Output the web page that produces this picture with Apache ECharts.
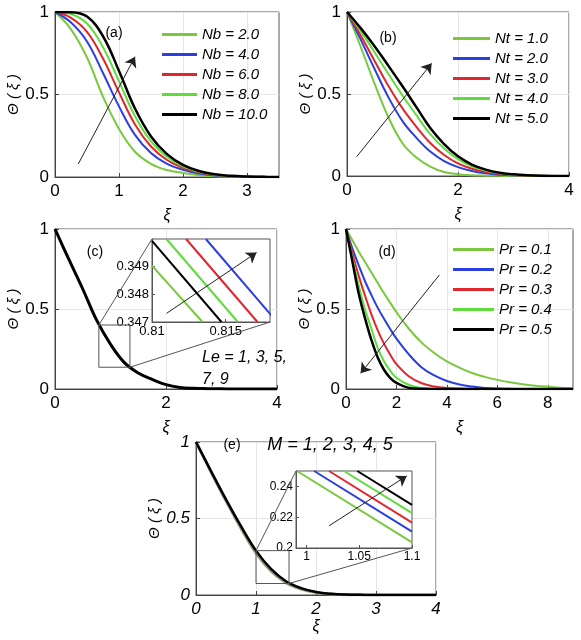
<!DOCTYPE html>
<html>
<head>
<meta charset="utf-8">
<script src="https://cdn.jsdelivr.net/npm/echarts@6/dist/echarts.min.js"></script>
<style>
  html, body { margin: 0; padding: 0; background: #fff; }
  #chart { width: 581px; height: 640px; }
</style>
</head>
<body>
<div id="chart"></div>
<script>
// ---- data ----
const xsA = [0, 0.25, 0.5, 0.75, 1, 1.25, 1.5, 1.75, 2, 2.25, 2.5, 2.75, 3, 3.25, 3.5];
const nbNames = ['Nb = 2.0', 'Nb = 4.0', 'Nb = 6.0', 'Nb = 8.0', 'Nb = 10.0'];
const nb2  = [1, 0.895, 0.724, 0.487, 0.291, 0.153, 0.080, 0.042, 0.024, 0.011, 0.005, 0.002, 0.001, 0, 0];
const nb4  = [1, 0.936, 0.821, 0.630, 0.428, 0.255, 0.145, 0.080, 0.044, 0.021, 0.009, 0.004, 0.002, 0, 0];
const nb6  = [1, 0.965, 0.880, 0.718, 0.513, 0.318, 0.185, 0.103, 0.056, 0.027, 0.012, 0.005, 0.002, 0.001, 0];
const nb8  = [1, 0.988, 0.930, 0.787, 0.580, 0.368, 0.216, 0.122, 0.065, 0.032, 0.014, 0.006, 0.003, 0.001, 0];
const nb10 = [1, 0.999, 0.972, 0.853, 0.643, 0.415, 0.246, 0.139, 0.074, 0.036, 0.016, 0.007, 0.003, 0.001, 0];

const xsB = [0, 0.25, 0.5, 0.75, 1, 1.25, 1.5, 1.75, 2, 2.25, 2.5, 2.75, 3, 3.25, 3.5, 3.75, 4];
const ntNames = ['Nt = 1.0', 'Nt = 2.0', 'Nt = 3.0', 'Nt = 4.0', 'Nt = 5.0'];
const nt1 = [1, 0.785, 0.560, 0.355, 0.200, 0.113, 0.057, 0.024, 0.011, 0.004, 0.002, 0.001, 0, 0, 0, 0, 0];
const nt2 = [1, 0.830, 0.650, 0.478, 0.335, 0.233, 0.149, 0.091, 0.054, 0.030, 0.016, 0.008, 0.004, 0.002, 0, 0, 0];
const nt3 = [1, 0.855, 0.700, 0.547, 0.412, 0.300, 0.201, 0.128, 0.077, 0.044, 0.025, 0.013, 0.006, 0.002, 0.001, 0, 0];
const nt4 = [1, 0.882, 0.753, 0.620, 0.491, 0.371, 0.255, 0.168, 0.103, 0.059, 0.033, 0.017, 0.008, 0.003, 0.001, 0, 0];
const nt5 = [1, 0.900, 0.790, 0.670, 0.547, 0.420, 0.293, 0.195, 0.120, 0.070, 0.039, 0.020, 0.010, 0.004, 0.001, 0, 0];

const xsC = [0, 0.25, 0.5, 0.75, 1, 1.25, 1.5, 1.75, 2, 2.25, 2.5, 2.75, 3, 3.25, 3.5, 3.75, 4];
const leMain = [1, 0.81, 0.625, 0.43, 0.28, 0.165, 0.10, 0.06, 0.027, 0.010, 0.004, 0.002, 0.001, 0, 0, 0, 0];
// zoomed inset (c): straight segments, start and end point of each curve
const leInsetStart = [[0.81, 0.34904], [0.81, 0.34993], [0.81098, 0.35], [0.81231, 0.35], [0.81365, 0.35]];
const leInsetEnd   = [[0.81342, 0.347], [0.81471, 0.347], [0.81582, 0.347], [0.81715, 0.347], [0.8182, 0.34717]];
const leZoomBox = [[0.79, 0.40], [1.35, 0.136]];

const xsD = [0, 0.25, 0.5, 0.75, 1, 1.25, 1.5, 1.75, 2, 2.5, 3, 3.5, 4, 4.5, 5, 5.5, 6, 6.5, 7, 7.5, 8, 8.5, 9];
const prNames = ['Pr = 0.1', 'Pr = 0.2', 'Pr = 0.3', 'Pr = 0.4', 'Pr = 0.5'];
const pr1 = [1, 0.93, 0.86, 0.795, 0.73, 0.665, 0.60, 0.54, 0.48, 0.375, 0.29, 0.225, 0.172, 0.133, 0.10, 0.076, 0.057, 0.042, 0.03, 0.021, 0.014, 0.008, 0.005];
const pr2 = [1, 0.88, 0.775, 0.675, 0.59, 0.51, 0.44, 0.375, 0.315, 0.215, 0.135, 0.085, 0.05, 0.028, 0.015, 0.007, 0.003, 0.001, 0, 0, 0, 0, 0];
const pr3 = [1, 0.85, 0.71, 0.585, 0.47, 0.37, 0.285, 0.215, 0.155, 0.078, 0.036, 0.016, 0.007, 0.003, 0.001, 0, 0, 0, 0, 0, 0, 0, 0];
const pr4 = [1, 0.82, 0.65, 0.50, 0.38, 0.26, 0.175, 0.115, 0.07, 0.025, 0.006, 0.001, 0, 0, 0, 0, 0, 0, 0, 0, 0, 0, 0];
const pr5 = [1, 0.80, 0.60, 0.445, 0.31, 0.2, 0.122, 0.07, 0.038, 0.007, 0.001, 0, 0, 0, 0, 0, 0, 0, 0, 0, 0, 0, 0];

const xsE = [0, 0.25, 0.5, 0.75, 1, 1.25, 1.5, 1.75, 2, 2.25, 2.5, 2.75, 3, 3.25, 3.5, 3.75, 4];
const mLow  = [1, 0.805, 0.615, 0.437, 0.275, 0.157, 0.081, 0.039, 0.017, 0.007, 0.002, 0.001, 0, 0, 0, 0, 0];
const mHigh = [1, 0.81, 0.625, 0.45, 0.29, 0.17, 0.09, 0.045, 0.02, 0.008, 0.003, 0.001, 0, 0, 0, 0, 0];
const mInsetStart = [[0.991, 0.25], [1.0072, 0.25], [1.0213, 0.25], [1.0355, 0.25], [1.0481, 0.25]];
const mInsetEnd   = [[1.1, 0.2037], [1.1, 0.2106], [1.1, 0.2165], [1.1, 0.2226], [1.1, 0.228]];
const mZoomBox = [[1.0, 0.29], [1.55, 0.075]];

// arrows [from, to]
const arrowA = [[0.364, 0.079], [1.25, 0.729]];
const arrowB = [[0.175, 0.118], [1.526, 0.687]];
const arrowC = [[0.81098, 0.34731], [0.81709, 0.34951]];
const arrowD = [[3.70, 0.7125], [0.58, 0.098]];
const arrowE = [[1.0213, 0.2144], [1.095, 0.2468]];

// ---- styling ----
const G1 = '#79c83d', BL = '#2b3fe0', RD = '#e2262d', G2 = '#5fdc3c', BK = '#000000';
const fiveColors = [G1, BL, RD, G2, BK];
const FONT = 'Liberation Sans, Arial, sans-serif';

const chart = echarts.init(document.getElementById('chart'), null, {renderer: 'canvas'});

function pairs(xs, ys) { return xs.map((x, i) => [x, ys[i]]); }

function mainGrid(left, top, width, height) {
  return {left, top, width, height, show: true, borderColor: '#555', borderWidth: 1, containLabel: false};
}
function insetGrid(left, top, width, height) {
  return {left, top, width, height, show: true, borderColor: '#555', borderWidth: 1,
          backgroundColor: '#fff', z: 5};
}

const axisCommon = {
  type: 'value',
  axisLine: {show: true, lineStyle: {color: '#444', width: 1}},
  axisTick: {show: true, inside: true, length: 4, lineStyle: {color: '#444'}},
  splitLine: {show: true, lineStyle: {color: '#e6e6e6', width: 1}},
  axisLabel: {color: '#000', fontSize: 17, fontFamily: FONT, margin: 6},
  nameTextStyle: {color: '#000', fontSize: 16, fontFamily: FONT, fontStyle: 'italic'}
};

function xMain(gi, min, max, ticks, italic) {
  return Object.assign({}, axisCommon, {
    gridIndex: gi, min, max,
    axisLabel: Object.assign({}, axisCommon.axisLabel, {customValues: ticks, fontStyle: italic ? 'italic' : 'normal'}),
    axisTick: Object.assign({}, axisCommon.axisTick, {customValues: ticks}),
    name: 'ξ', nameLocation: 'middle', nameGap: italic ? 21 : 31
  });
}
function yMain(gi, italic) {
  return Object.assign({}, axisCommon, {
    gridIndex: gi, min: 0, max: 1, interval: 0.5,
    axisLabel: Object.assign({}, axisCommon.axisLabel, {fontStyle: italic ? 'italic' : 'normal'}),
    name: 'Θ ( ξ )', nameLocation: 'middle', nameRotate: 90, nameGap: 34,
    nameTextStyle: {color: '#000', fontSize: 15, fontFamily: FONT, fontStyle: 'italic'}
  });
}
function insetAxis(gi, min, max, ticks, fontSize, digits) {
  return {
    type: 'value', gridIndex: gi, min, max, z: 6,
    axisLine: {show: true, lineStyle: {color: '#555'}},
    axisTick: {show: true, inside: true, length: 3, customValues: ticks, lineStyle: {color: '#555'}},
    splitLine: {show: false},
    axisLabel: {customValues: ticks, color: '#000', fontSize, fontFamily: FONT, margin: 3,
                formatter: v => String(+v.toFixed(digits))}
  };
}

function curve(name, gi, xs, ys, color, width) {
  return {
    name, type: 'line', xAxisIndex: gi, yAxisIndex: gi, data: pairs(xs, ys),
    showSymbol: false, symbol: 'none', smooth: 0.4,
    lineStyle: {color, width: width || 2}, itemStyle: {color}, silent: true, z: 3
  };
}
function segment(name, gi, a, b, color) {
  return {
    name, type: 'line', xAxisIndex: gi, yAxisIndex: gi, data: [a, b], clip: true,
    showSymbol: false, symbol: 'none', lineStyle: {color, width: 2}, itemStyle: {color}, silent: true, z: 7
  };
}
function arrow(gi, pts, z) {
  return {
    type: 'lines', coordinateSystem: 'cartesian2d', xAxisIndex: gi, yAxisIndex: gi,
    symbol: ['none', 'arrow'], symbolSize: 10, silent: true, z: z || 8,
    lineStyle: {color: '#222', width: 1, opacity: 1},
    data: [{coords: pts}]
  };
}
function legendAt(names, left, top, itemWidth) {
  return {
    data: names, orient: 'vertical', left, top, itemWidth, itemHeight: 3, itemGap: 5,
    icon: 'rect', selectedMode: false, padding: 0,
    textStyle: {fontSize: 15, fontStyle: 'italic', fontFamily: FONT, color: '#000', lineHeight: 15}
  };
}

const series = [];
[nb2, nb4, nb6, nb8, nb10].forEach((ys, i) => series.push(curve(nbNames[i], 0, xsA, ys, fiveColors[i], i === 4 ? 2.5 : 2)));
[nt1, nt2, nt3, nt4, nt5].forEach((ys, i) => series.push(curve(ntNames[i], 1, xsB, ys, fiveColors[i], i === 4 ? 2.5 : 2)));
series.push(curve('Le', 2, xsC, leMain, BK, 3));
[pr1, pr2, pr3, pr4, pr5].forEach((ys, i) => series.push(curve(prNames[i], 3, xsD, ys, fiveColors[i], i === 4 ? 2.5 : 2)));
series.push(curve('M = 1', 4, xsE, mLow, '#8a9a7a', 3));
series.push(curve('M = 5', 4, xsE, mHigh, BK, 2.5));
const leColors = [G1, BK, G2, RD, BL];
leInsetStart.forEach((a, i) => series.push(segment('Le inset ' + i, 5, a, leInsetEnd[i], leColors[i])));
mInsetStart.forEach((a, i) => series.push(segment('M inset ' + i, 6, a, mInsetEnd[i], fiveColors[i])));
series.push(arrow(0, arrowA), arrow(1, arrowB), arrow(3, arrowD), arrow(5, arrowC, 9), arrow(6, arrowE, 9));

const option = {
  backgroundColor: '#fff',
  animation: false,
  grid: [
    mainGrid(55, 12, 224, 165),
    mainGrid(347, 12, 222, 164),
    mainGrid(55, 229, 222, 160),
    mainGrid(346, 229, 227, 160),
    mainGrid(196, 442, 240, 153),
    insetGrid(152, 239, 118, 83),
    insetGrid(296, 471, 116, 77)
  ],
  xAxis: [
    xMain(0, 0, 3.5, [0, 1, 2, 3]),
    xMain(1, 0, 4, [0, 2, 4]),
    xMain(2, 0, 4, [0, 2, 4]),
    xMain(3, 0, 9, [0, 2, 4, 6, 8]),
    xMain(4, 0, 4, [0, 1, 2, 3, 4], true),
    insetAxis(5, 0.81, 0.818, [0.81, 0.815], 13, 3),
    insetAxis(6, 0.99, 1.1, [1, 1.05, 1.1], 12, 2)
  ],
  yAxis: [
    yMain(0), yMain(1), yMain(2), yMain(3), yMain(4, true),
    insetAxis(5, 0.347, 0.35, [0.347, 0.348, 0.349], 13, 3),
    insetAxis(6, 0.2, 0.25, [0.2, 0.22, 0.24], 12, 2)
  ],
  legend: [
    legendAt(nbNames, 162, 27, 35),
    legendAt(ntNames, 453, 31, 37),
    legendAt(prNames, 453, 242, 41)
  ],
  series
};
chart.setOption(option);

// annotations: zoom boxes, connectors and panel texts, placed from data coords
const px = (gi, pt) => chart.convertToPixel({gridIndex: gi}, pt);
function boxAndLinks(mainGi, box, insetGi, insetTL, insetBR) {
  const a = px(mainGi, box[0]), b = px(mainGi, box[1]);
  const p = px(insetGi, insetTL), q = px(insetGi, insetBR);
  const ls = {stroke: '#555', lineWidth: 1, fill: null};
  return [
    {type: 'rect', shape: {x: a[0], y: a[1], width: b[0] - a[0], height: b[1] - a[1]}, style: ls, z: 20, silent: true},
    {type: 'line', shape: {x1: a[0], y1: a[1], x2: p[0], y2: p[1]}, style: ls, z: 20, silent: true},
    {type: 'line', shape: {x1: b[0], y1: b[1], x2: q[0], y2: q[1]}, style: ls, z: 20, silent: true}
  ];
}
function label(text, x, y, size, italic, align) {
  return {type: 'text', x, y, z: 30, silent: true,
          style: {text, fontSize: size, fontFamily: FONT, fontStyle: italic ? 'italic' : 'normal',
                  fill: '#000', align: align || 'center', verticalAlign: 'middle', lineHeight: size + 6}};
}
chart.setOption({
  graphic: [].concat(
    boxAndLinks(2, leZoomBox, 5, [0.81, 0.35], [0.818, 0.347]),
    boxAndLinks(4, mZoomBox, 6, [0.99, 0.25], [1.1, 0.2]),
    [
      label('(a)', 114, 33, 14),
      label('(b)', 388, 38, 14),
      label('(c)', 95, 252, 14),
      label('(d)', 387, 252, 14),
      label('(e)', 232, 445, 14),
      label('Le = 1, 3, 5,\n7, 9', 202, 369, 16, true, 'left'),
      label('M = 1, 2, 3, 4, 5', 330, 445, 18, true)
    ]
  )
});
</script>
</body>
</html>
